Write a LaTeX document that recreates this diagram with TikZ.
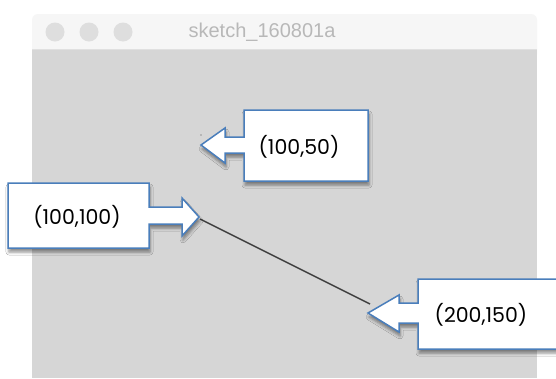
\documentclass[tikz,border=0pt]{standalone}
\usepackage{fontspec}
\setmainfont{Poppins}
\newfontfamily\titlefont{Liberation Sans}
\usetikzlibrary{shadows.blur}

\definecolor{canvasgrey}{HTML}{D6D6D6}
\definecolor{barwhite}{HTML}{F6F6F6}
\definecolor{dotgrey}{HTML}{DEDEDE}
\definecolor{titlegrey}{HTML}{B8B8B8}
\definecolor{calloutblue}{HTML}{4A7EBB}

\tikzset{
  callout/.style={draw=calloutblue, line width=1.5pt, fill=white, line join=miter,
    blur shadow={shadow xshift=1pt, shadow yshift=-4pt, shadow blur radius=3pt,
      shadow opacity=45}},
  coordlabel/.style={font=\fontsize{20.5}{20.5}\selectfont, inner sep=0pt},
  winbutton/.style={circle, fill=dotgrey, minimum size=19pt, inner sep=0pt}
}

\begin{document}
\begin{tikzpicture}[x=1pt,y=-1pt]
\useasboundingbox (0,0) rectangle (556,378);
\fill[white] (0,0) rectangle (556,378);

% window frame
\fill[barwhite, rounded corners=6pt] (32,14) rectangle (537,60);
\fill[canvasgrey] (32,49) rectangle (537,378);
\draw[black!12] (32,49) -- (537,49);
\node[winbutton] (btnA) at (55,32) {};
\node[winbutton] (btnB) at (89,32) {};
\node[winbutton] (btnC) at (123,32) {};
\node[text=titlegrey, font=\titlefont\fontsize{20}{20}\selectfont] (title) at (262,32) {sketch\_160801a};

% what the sketch draws
\coordinate (p50) at (201,135);
\coordinate (p100) at (200,219);
\coordinate (p150) at (370,304);
\fill[black!70] (p50) circle (0.7pt);
\draw[black!75, line width=1.4pt] (p100) -- (p150);

% callout for the point
\draw[callout] (244,110) -- (368,110) -- (368,181) -- (244,181) -- (244,153) -- (225,153)
  -- (225,163) -- (201,145) -- (225,128) -- (225,137) -- (244,137) -- cycle;
\node[coordlabel] (lab50) at (299,147) {(100,50)};

% callout for the line start
\draw[callout] (8,183) -- (149,183) -- (149,207) -- (182,207) -- (182,198)
  -- (199,217) -- (182,236) -- (182,224) -- (149,224) -- (149,248) -- (8,248) -- cycle;
\node[coordlabel] (lab100) at (77,217) {(100,100)};

% callout for the line end
\draw[callout] (418,279) -- (562,279) -- (562,349) -- (418,349) -- (418,323) -- (399,323)
  -- (399,332) -- (368,313) -- (399,295) -- (399,303) -- (418,303) -- cycle;
\node[coordlabel] (lab150) at (481,315) {(200,150)};
\end{tikzpicture}
\end{document}
